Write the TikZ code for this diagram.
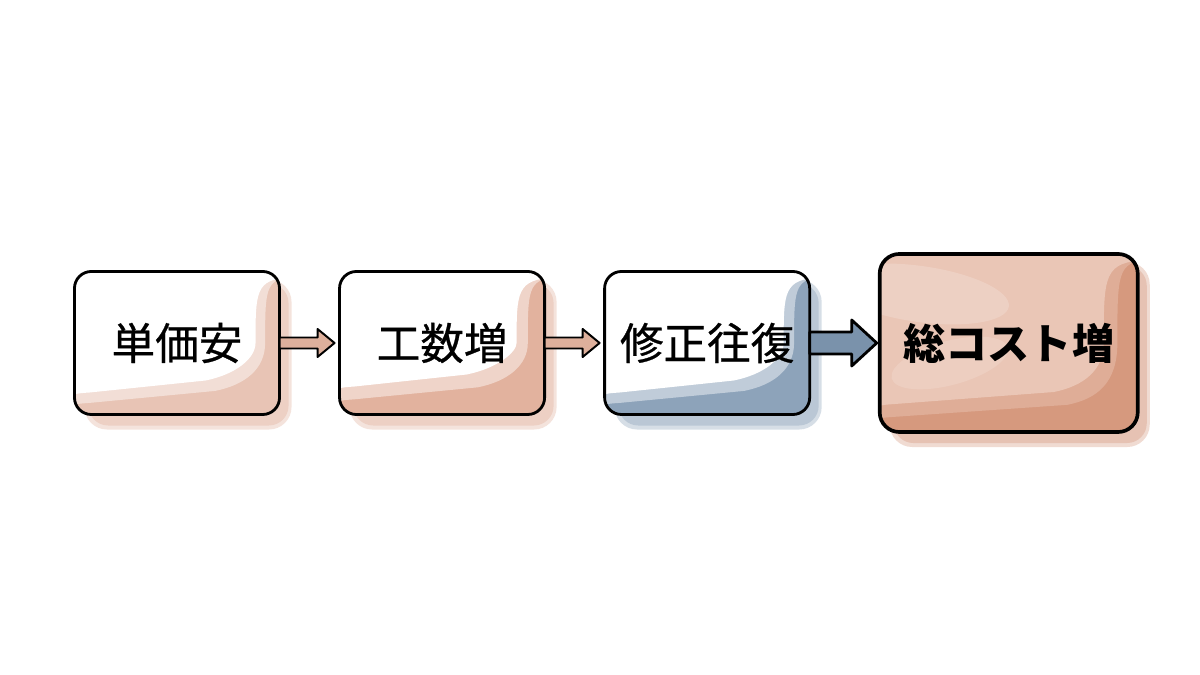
\documentclass[tikz,border=0pt]{standalone}
\usepackage{fontspec}
\newfontfamily\jpfont[FakeBold=0.6]{Noto Sans CJK JP}
\newfontfamily\jpheavy{Noto Sans CJK JP}
\usepackage{tikz}
\usetikzlibrary{positioning, backgrounds, calc}

\definecolor{washPeach}{RGB}{221,165,142}
\definecolor{washBlue}{RGB}{122,148,174}
\definecolor{arrowPeach}{RGB}{222,176,156}
\definecolor{arrowBlue}{RGB}{122,146,171}
\definecolor{totalFill}{RGB}{234,198,182}
\definecolor{totalDark}{RGB}{208,138,108}

\begin{document}
\begin{tikzpicture}[
        x=0.025cm, y=0.025cm,
        node distance=1.5cm,
        % styles
        stepBox/.style={rectangle, draw=black, line width=2pt, rounded corners=12pt, outer sep=0pt, minimum width=5.125cm, minimum height=3.575cm, align=center, font=\jpfont\fontsize{31}{36}\selectfont},
        totalBox/.style={stepBox, line width=2.6pt, rounded corners=14pt, minimum width=6.45cm, minimum height=4.45cm, font=\jpheavy\bfseries\fontsize{30}{36}\selectfont},
        % connector styles
        fatArrow/.style={draw=black, line width=1.4pt, line join=round, fill=arrowPeach,
            to path={($(\tikztostart)+(0,5.5)$) -- ($(\tikztotarget)+(-22,5.5)$) -- ($(\tikztotarget)+(-22,14)$)
                -- ($(\tikztotarget)+(-5,0)$) -- ($(\tikztotarget)+(-22,-14)$) -- ($(\tikztotarget)+(-22,-5.5)$)
                -- ($(\tikztostart)+(0,-5.5)$) -- cycle}},
        bigArrow/.style={draw=black, line width=2pt, line join=round, fill=arrowBlue,
            to path={($(\tikztostart)+(0,11)$) -- ($(\tikztotarget)+(-28,11)$) -- ($(\tikztotarget)+(-28,23)$)
                -- ($(\tikztotarget)+(-3,0)$) -- ($(\tikztotarget)+(-28,-23)$) -- ($(\tikztotarget)+(-28,-11)$)
                -- ($(\tikztostart)+(0,-11)$) -- cycle}}
    ]

    \useasboundingbox (0,0) rectangle (1200,675);

    % nodes
    \node [stepBox] (cheap) at (177,332) {単価安};
    \node [stepBox, right=of cheap] (hours) {工数増};
    \node [stepBox, right=of hours] (fixes) {修正往復};
    \node [totalBox, right=1.75cm of fixes] (total) {総コスト増};

    % watercolor washes
    \begin{scope}[on background layer]
        \fill [white] (0,0) rectangle (1200,675);
        \foreach \b/\c/\p/\a/\dx/\dy in {cheap/washPeach/white/.65/24/26, hours/washPeach/white/.85/28/32,
                fixes/washBlue/white/.85/26/26, total/totalDark/totalFill/.75/34/32} {
            % soft shadow
            \fill [\c, opacity=.3, rounded corners=16pt] ($(\b.south west)+(10,-15)$) rectangle ($(\b.north east)+(12,-8)$);
            \fill [\c, opacity=.3, rounded corners=14pt] ($(\b.south west)+(14,-11)$) rectangle ($(\b.north east)+(9,-12)$);
            \fill [\p, rounded corners=13pt] (\b.south west) rectangle (\b.north east);
            \begin{scope}
                \clip [rounded corners=13pt] (\b.south west) rectangle (\b.north east);
                \fill [\c, opacity=\a] (\b.south west) rectangle (\b.north east);
                % dry paper, soft edge first
                \foreach \o/\k in {.45/.6, 1/1} {
                    \fill [\p, opacity=\o] ($(\b.north west)+(-10,10)$) -- ($(\b.north east)+(10,10)$) -- ($(\b.north east)+(10,-6)$)
                        .. controls ($(\b.north east)+(-\k*\dx,-8)$) and ($(\b.north east)+(-\k*\dx,-20)$) .. ($(\b.east)+(-\k*\dx,0)$)
                        .. controls ($(\b.south east)+(-\k*\dx,\k*\dy+30)$) and ($(\b.south east)+(-\k*\dx-20,\k*\dy+14)$) .. ($(\b.south east)+(-\k*\dx-50,\k*\dy+8)$)
                        -- ($(\b.south west)+(15,\k*\dy-4)$) .. controls ($(\b.south west)+(0,\k*\dy-5)$) .. ($(\b.south west)+(-10,\k*\dy-12)$) -- cycle;
                }
            \end{scope}
        }
        % light streaks on the total box
        \fill [white, opacity=.18] ($(total.north west)+(40,-40)$) ellipse [x radius=90, y radius=28, rotate=-8];
        \fill [white, opacity=.15] ($(total.west)+(70,-20)$) ellipse [x radius=60, y radius=22, rotate=15];
    \end{scope}

    % connections
    \draw [fatArrow] (cheap.east) to (hours.west);
    \draw [fatArrow] (hours.east) to (fixes.west);
    \draw [bigArrow] (fixes.east) to (total.west);

\end{tikzpicture}
\end{document}
